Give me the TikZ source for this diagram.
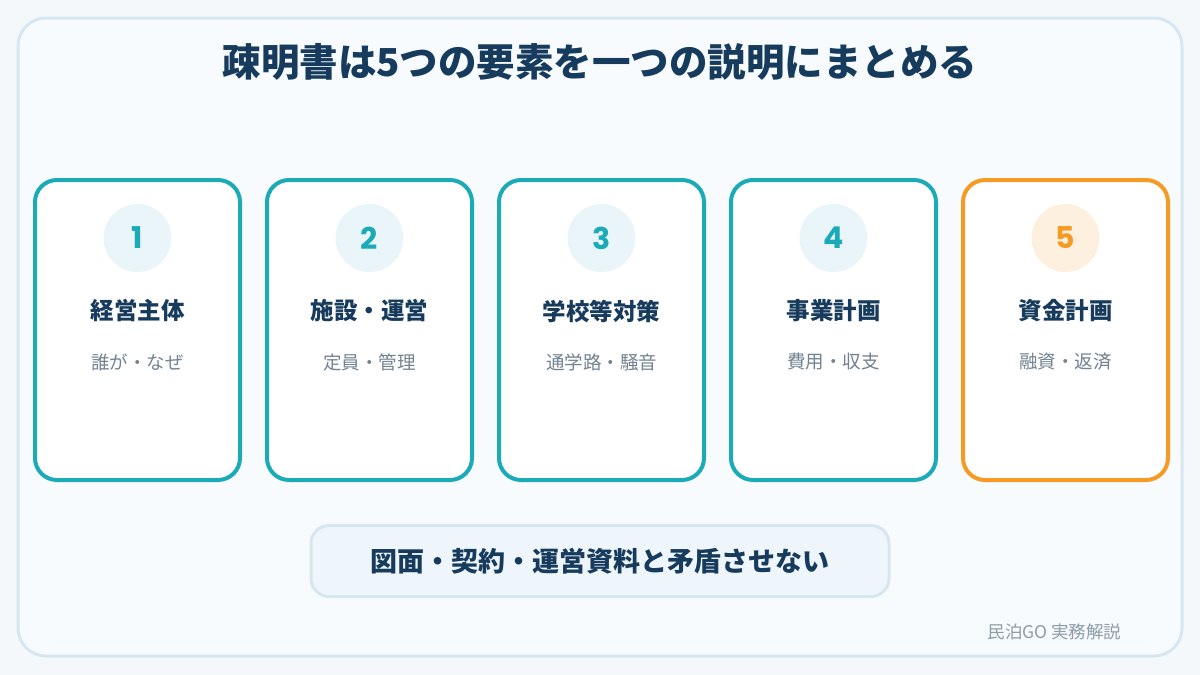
\documentclass[tikz,border=0pt]{standalone}
\usepackage{fontspec}
\setmainfont{Noto Sans CJK JP}
\newfontfamily\numfont{Poppins}
\usepackage{tikz}
\usetikzlibrary{positioning,calc}

\definecolor{bgblue}{HTML}{F4F8FB}
\definecolor{panelfill}{HTML}{F7FBFE}
\definecolor{panelline}{HTML}{D7E7F0}
\definecolor{navy}{HTML}{173B5C}
\definecolor{teal}{HTML}{1AABB6}
\definecolor{tealsoft}{HTML}{EAF5FA}
\definecolor{orange}{HTML}{F59B23}
\definecolor{orangesoft}{HTML}{FEF0DE}
\definecolor{subgrey}{HTML}{728290}
\definecolor{footgrey}{HTML}{8C9CA8}
\definecolor{notefill}{HTML}{EEF6FC}

\begin{document}
\begin{tikzpicture}[x=1pt,y=-1pt,node distance=23pt,
	card/.style={draw=teal, line width=4pt, fill=white, rounded corners=22pt, minimum width=205pt, minimum height=300pt, inner sep=0pt},
	num circle/.style={circle, fill=tealsoft, minimum size=68pt, inner sep=0pt, text=teal, font=\numfont\bfseries\fontsize{30}{30}\selectfont},
	card title/.style={text=navy, font=\bfseries\fontsize{23.5}{23.5}\selectfont},
	card sub/.style={text=subgrey, font=\fontsize{18.5}{18.5}\selectfont}]
	\useasboundingbox (0,0) rectangle (1200,675);
	\fill[bgblue] (0,0) rectangle (1200,675);
	\draw[panelline, line width=3pt, fill=panelfill, rounded corners=28pt] (18,18) rectangle (1182,656);

	\node[text=navy, font=\bfseries\fontsize{38.5}{38.5}\selectfont] (title) at (600,62) {疎明書は5つの要素を一つの説明にまとめる};

	% cards
	\node[card] (c1) at (137.5,330) {};
	\node[card] (c2) [right=of c1] {};
	\node[card] (c3) [right=of c2] {};
	\node[card] (c4) [right=of c3] {};
	\node[card, draw=orange] (c5) [right=of c4] {};

	\node[num circle] (n1) at ([yshift=92pt]c1.center) {1};
	\node[num circle] (n2) at ([yshift=92pt]c2.center) {2};
	\node[num circle] (n3) at ([yshift=92pt]c3.center) {3};
	\node[num circle] (n4) at ([yshift=92pt]c4.center) {4};
	\node[num circle, fill=orangesoft, text=orange] (n5) at ([yshift=92pt]c5.center) {5};

	\node[card title] (t1) at ([yshift=-73pt]n1.center) {経営主体};
	\node[card title] (t2) at ([yshift=-73pt]n2.center) {施設・運営};
	\node[card title] (t3) at ([yshift=-73pt]n3.center) {学校等対策};
	\node[card title] (t4) at ([yshift=-73pt]n4.center) {事業計画};
	\node[card title] (t5) at ([yshift=-73pt]n5.center) {資金計画};

	\node[card sub] (s1) at ([yshift=-51pt]t1.center) {誰が・なぜ};
	\node[card sub] (s2) at ([yshift=-51pt]t2.center) {定員・管理};
	\node[card sub] (s3) at ([yshift=-51pt]t3.center) {通学路・騒音};
	\node[card sub] (s4) at ([yshift=-51pt]t4.center) {費用・収支};
	\node[card sub] (s5) at ([yshift=-51pt]t5.center) {融資・返済};

	% note
	\node[draw=panelline, line width=3pt, fill=notefill, rounded corners=18pt, minimum width=578pt, minimum height=71pt, text=navy, font=\bfseries\fontsize{27}{27}\selectfont] (note) at (600,561) {図面・契約・運営資料と矛盾させない};

	\node[text=footgrey, font=\fontsize{17.5}{17.5}\selectfont, anchor=east] (foot) at (1125,632) {民泊GO 実務解説};
\end{tikzpicture}
\end{document}
